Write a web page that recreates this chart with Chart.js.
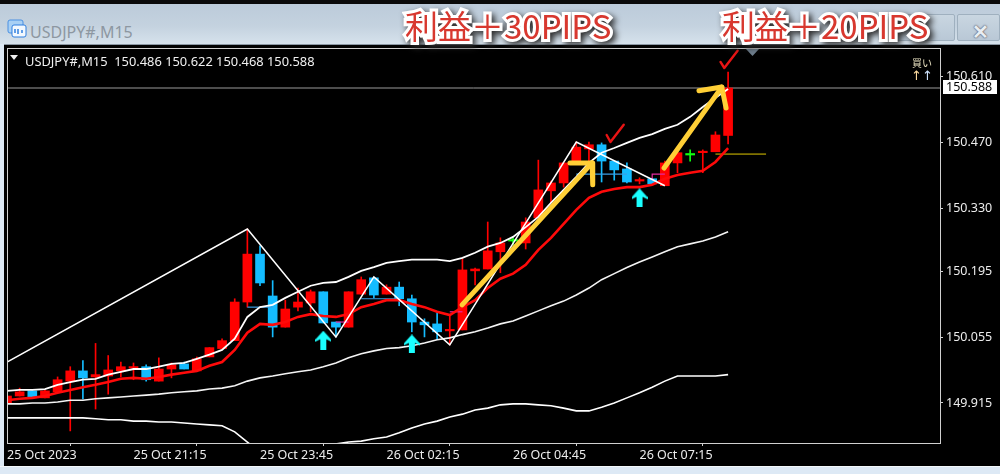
<!DOCTYPE html>
<html lang="ja"><head><meta charset="utf-8">
<style>
html,body{margin:0;padding:0;width:1000px;height:474px;overflow:hidden;background:#dde9f5}
#strip{position:absolute;left:0;top:0;width:1000px;height:4px;background:#0a0a0a}
#title{position:absolute;left:0;top:4px;width:1000px;height:40px;background:linear-gradient(#bccbda,#c4d2df 55%,#d6e2ec)}
#pane{position:absolute;left:4px;top:44px;width:996px;height:423px;background:#000;border-top:1px solid #8b97a3;box-sizing:border-box}
#bottom{position:absolute;left:0;top:466px;width:1000px;height:1px;background:#f4f8fb}
#cv{position:absolute;left:0;top:0}
.t{position:absolute;white-space:pre;line-height:1}
#wt{left:30px;top:21px;font:16px "Noto Sans",sans-serif;color:#8d97a1}
#icon{position:absolute;left:7px;top:19px}
.btn{position:absolute;top:14px;height:27px;border:1px solid #9fb0bf;border-radius:2px;background:linear-gradient(#c9d6e1,#b9c8d6);box-sizing:border-box}
#x{position:absolute;left:972px;top:20px;font:bold 20px "Liberation Sans",sans-serif;color:#e8edf2;text-shadow:0 0 1px #556,0 0 2px #556}
.gain{position:absolute;top:9px;font:400 33px/1 "Noto Sans CJK JP",sans-serif;color:#d8382f;white-space:pre;-webkit-text-stroke:6px #fff;paint-order:stroke fill;filter:drop-shadow(3px 3px 3px #2b2b2b)}
#hdr{left:25px;top:52px;font:12.86px "Noto Sans",sans-serif;color:#f0f0f0}
#tri{position:absolute;left:10px;top:55px;width:8px;height:5px;background:#f0f0f0;clip-path:polygon(0 0,100% 0,50% 100%)}
#shift{position:absolute;left:746px;top:49px;width:13px;height:7px;background:#6d7d8c;clip-path:polygon(0 0,100% 0,50% 100%)}
#buy{left:912px;top:55px;font:10px "Noto Sans CJK JP",sans-serif;color:#e8e0c0}
#up{left:911px;top:68px;font:13px "DejaVu Sans",sans-serif;color:#ffdca0;letter-spacing:-2px}
#up b{font-weight:normal;color:#cfe4ff}
#bid{left:943px;top:80px;width:54px;height:14px;background:#fff;color:#000;font:12.5px/14px "Noto Sans",sans-serif;padding-left:3px;box-sizing:border-box}
</style></head><body>
<div id="strip"></div><div id="title"></div><div id="pane"></div><div id="bottom"></div>
<svg id="icon" width="20" height="19" viewBox="0 0 20 19"><rect x="1" y="1" width="15" height="13" rx="2" fill="#a8d0f4" stroke="#4a90e2"/><rect x="5" y="6" width="14" height="12" rx="2" fill="#f2f8fe" stroke="#2f7fe0"/><path d="M8 14v-4M11 15v-5M15 14v-3" stroke="#2f7fe0" stroke-width="1.5"/></svg>
<div class="t" id="wt">USDJPY#,M15</div>
<div class="btn" style="left:878px;width:77px"></div>
<div class="btn" style="left:957px;width:43px"></div>
<div id="x">✕</div>
<canvas id="cv" width="1000" height="474"></canvas>
<div id="tri"></div>
<div class="t" id="hdr">USDJPY#,M15  150.486 150.622 150.468 150.588</div>
<div id="shift"></div>
<div class="t" id="buy">買い</div>
<div class="t" id="up">↑ <b>↑</b></div>
<div class="t" id="bid">150.588</div>
<div class="gain" style="left:405px">利益＋30PIPS</div>
<div class="gain" style="left:722px">利益＋20PIPS</div>
<script src="https://cdn.jsdelivr.net/npm/chart.js@4"></script>
<script>
const xTickIndex=[0,10,20,30,40,50];
const xTickLabels=['25 Oct 2023','25 Oct 21:15','25 Oct 23:45','26 Oct 02:15','26 Oct 04:45','26 Oct 07:15'];
const yTickValues=[150.612,150.470,150.330,150.193,150.051,149.911];
const yTickLabels=['150.610','150.470','150.330','150.195','150.055','149.915'];

const opens=[149.911,149.926,149.937,149.922,149.935,149.958,149.980,149.967,149.969,149.980,149.986,149.989,149.958,149.984,149.995,149.980,150.010,150.028,150.045,150.128,150.231,150.141,150.074,150.117,150.126,150.150,150.085,150.074,150.145,150.180,150.145,150.160,150.135,150.085,150.081,150.066,150.068,150.195,150.199,150.236,150.259,150.255,150.309,150.367,150.384,150.427,150.457,150.466,150.431,150.414,150.388,150.393,150.378,150.427,150.444,150.449,150.451,150.486];
const closes=[149.926,149.935,149.924,149.937,149.961,149.980,149.965,149.972,149.982,149.989,149.989,149.961,149.984,149.993,149.984,150.006,150.030,150.045,150.128,150.231,150.169,150.074,150.113,150.128,150.150,150.083,150.074,150.150,150.176,150.143,150.160,150.135,150.085,150.079,150.064,150.068,150.197,150.199,150.238,150.255,150.259,150.300,150.369,150.384,150.427,150.461,150.466,150.431,150.412,150.386,150.390,150.382,150.427,150.449,150.444,150.451,150.487,150.588];
const highs=[149.926,149.943,149.937,149.939,149.967,149.989,150.002,150.039,150.013,149.999,149.997,149.993,150.008,149.997,149.999,150.010,150.030,150.049,150.135,150.285,150.249,150.174,150.132,150.158,150.154,150.150,150.085,150.150,150.182,150.180,150.165,150.171,150.143,150.092,150.105,150.100,150.221,150.201,150.300,150.266,150.266,150.309,150.433,150.388,150.427,150.472,150.472,150.470,150.431,150.427,150.395,150.393,150.431,150.449,150.455,150.455,150.494,150.622];
const lows=[149.896,149.926,149.922,149.922,149.935,149.851,149.920,149.898,149.930,149.967,149.961,149.958,149.958,149.965,149.984,149.980,150.010,150.028,150.045,150.117,150.163,150.053,150.074,150.109,150.107,150.083,150.053,150.074,150.145,150.137,150.145,150.120,150.064,150.053,150.047,150.036,150.068,150.165,150.199,150.191,150.251,150.242,150.309,150.341,150.375,150.427,150.427,150.386,150.390,150.384,150.382,150.382,150.378,150.406,150.431,150.406,150.451,150.468];

const maRed=[149.917,149.920,149.922,149.926,149.933,149.939,149.945,149.950,149.956,149.963,149.965,149.963,149.967,149.972,149.976,149.980,149.991,149.999,150.025,150.062,150.081,150.079,150.085,150.096,150.102,150.098,150.096,150.102,150.117,150.124,150.132,150.132,150.124,150.117,150.107,150.100,150.117,150.132,150.158,150.178,150.189,150.208,150.240,150.266,150.296,150.326,150.352,150.365,150.371,150.375,150.375,150.380,150.393,150.401,150.406,150.410,150.429,150.459];
const bandUpper=[149.937,149.939,149.939,149.941,149.950,149.956,149.961,149.963,149.972,149.978,149.984,149.984,149.989,149.995,149.997,150.006,150.015,150.025,150.049,150.096,150.117,150.122,150.137,150.150,150.163,150.169,150.171,150.182,150.195,150.203,150.212,150.216,150.219,150.219,150.219,150.216,150.223,150.234,150.247,150.255,150.268,150.289,150.311,150.341,150.369,150.397,150.427,150.449,150.459,150.470,150.481,150.489,150.500,150.509,150.526,150.547,150.567,150.586];
const bandMiddle=[149.909,149.909,149.911,149.911,149.913,149.917,149.917,149.920,149.922,149.924,149.926,149.928,149.930,149.933,149.935,149.937,149.941,149.943,149.948,149.958,149.965,149.969,149.974,149.978,149.982,149.989,149.997,150.008,150.017,150.023,150.028,150.030,150.034,150.040,150.047,150.051,150.058,150.064,150.072,150.081,150.087,150.098,150.109,150.120,150.130,150.143,150.158,150.176,150.189,150.202,150.214,150.225,150.236,150.247,150.253,150.259,150.268,150.279];
const bandLower=[149.879,149.879,149.879,149.879,149.879,149.879,149.879,149.877,149.875,149.875,149.872,149.872,149.870,149.870,149.868,149.866,149.864,149.862,149.849,149.827,149.805,149.797,149.793,149.797,149.805,149.814,149.823,149.827,149.829,149.834,149.838,149.847,149.857,149.866,149.872,149.881,149.887,149.896,149.900,149.907,149.909,149.909,149.907,149.905,149.900,149.894,149.894,149.902,149.911,149.922,149.933,149.945,149.958,149.969,149.969,149.969,149.969,149.972];

const zigX=[0,19,26,29,35,45,52];
const zigY=[149.999,150.285,150.053,150.182,150.036,150.472,150.378];

const blueX=[[19,21],[28,31],[45,49]];
const blueY=[150.117,150.135,150.403];
const magentaX=[[26,27],[35,36],[51,51,52]];
const magentaY=[[150.085,150.085],[150.107,150.107],[150.390,150.403,150.403]];
const targetX=[56,60];
const targetY=[150.446,150.446];
const bidX=[0,73.75];
const bidY=[150.588,150.588];

const buyArrowX=[25,32,50];
const buyArrowY=[150.046,150.038,150.352];

const yellowX=[[35.97,46.25],[44.5,46.25,46.3],[51.94,56.5],[54.7,56.5,56.84]];
const yellowY=[[150.122,150.427],[150.427,150.427,150.380],[150.416,150.590],[150.582,150.590,150.545]];
const checkX=[[47.4,47.7,48.75],[56.4,56.7,57.75]];
const checkY=[[150.487,150.472,150.509],[150.644,150.631,150.668]];

const RED='#ff0000',CYAN='#14bcff',GREEN='#10ff10';
const candleColor=opens.map((o,i)=>o===closes[i]?GREEN:(closes[i]>o?RED:CYAN));
const arrowImg=document.createElement('canvas');
arrowImg.width=16;arrowImg.height=19;
(()=>{const c=arrowImg.getContext('2d');c.fillStyle='#1affff';c.beginPath();
 c.moveTo(8,0);c.lineTo(16,9);c.lineTo(16,11);c.lineTo(11,8.5);c.lineTo(11,19);c.lineTo(5,19);c.lineTo(5,8.5);c.lineTo(0,11);c.lineTo(0,9);c.closePath();c.fill();})();

const xy=(xs,ys)=>xs.map((x,i)=>({x,y:ys[i]}));
const series=ys=>ys.map((y,x)=>({x,y}));
const line=(data,color,width,order,extra)=>Object.assign({type:'line',data,borderColor:color,borderWidth:width,pointRadius:0,tension:0,fill:false,order},extra||{});
const round={borderCapStyle:'round',borderJoinStyle:'round'};

const datasets=[
 {type:'bar',data:opens.map((o,i)=>({x:i,y:[lows[i],highs[i]]})),backgroundColor:candleColor,barThickness:1,grouped:false,order:60},
 {type:'bar',data:opens.map((o,i)=>({x:i,y:[o,closes[i]]})),backgroundColor:candleColor,barThickness:9,minBarLength:1.5,grouped:false,order:50},
 line(xy(bidX,bidY),'#9a9a9a',1,70),
 line(xy(targetX,targetY),'#e0c800',1,46),
 ...blueX.map((xs,k)=>line(xy(xs,xs.map(()=>blueY[k])),'#3a9fe6',1.2,47)),
 ...magentaX.map((xs,k)=>line(xy(xs,magentaY[k]),'#e22aa0',1.2,46)),
 line(series(bandLower),'#ffffff',1.6,40),
 line(series(bandMiddle),'#f4f4f4',1.6,40),
 line(series(bandUpper),'#ffffff',1.8,38),
 line(series(maRed),'#ff0a0a',2.6,36),
 line(xy(zigX,zigY),'#ffffff',1.5,30),
 {type:'line',data:xy(buyArrowX,buyArrowY),showLine:false,pointStyle:arrowImg,pointRadius:1,pointBorderWidth:0,order:25},
 ...yellowX.map((xs,k)=>line(xy(xs,yellowY[k]),'#ffcf36',5,20,round)),
 ...checkX.map((xs,k)=>line(xy(xs,checkY[k]),'#e81414',2.4,15,round))
];

const frame={id:'frame',afterDraw(c){const a=c.chartArea,g=c.ctx;g.save();g.strokeStyle='#d0d0d0';g.lineWidth=1;g.strokeRect(Math.round(a.left)+.5,Math.round(a.top)+.5,Math.round(a.width),Math.round(a.height));g.restore();}};
const tickFont={family:'"Noto Sans"',size:12.5};
new Chart(document.getElementById('cv'),{
 data:{datasets},
 plugins:[frame],
 options:{responsive:false,animation:false,events:[],
  layout:{padding:{left:7,top:48,right:0,bottom:0}},
  plugins:{legend:{display:false},tooltip:{enabled:false},title:{display:false}},
  scales:{
   x:{type:'linear',min:0,max:73.75,offset:false,
    afterBuildTicks:s=>{s.ticks=xTickIndex.map(value=>({value}));},
    afterFit:s=>{s.height=31;s.paddingLeft=0;s.paddingRight=0;},
    grid:{drawOnChartArea:false,tickLength:3,color:'#d0d0d0'},border:{display:false},
    ticks:{autoSkip:false,maxRotation:0,align:'start',padding:2,color:'#ececec',font:tickFont,
     callback:v=>xTickLabels[xTickIndex.indexOf(v)]}},
   y:{type:'linear',position:'right',min:149.825,max:150.674,
    afterBuildTicks:s=>{s.ticks=yTickValues.map(value=>({value}));},
    afterFit:s=>{s.width=60;s.paddingTop=0;s.paddingBottom=0;},
    grid:{drawOnChartArea:false,tickLength:3,color:'#d0d0d0'},border:{display:false},
    ticks:{autoSkip:false,padding:3,color:'#ececec',font:tickFont,
     callback:v=>yTickLabels[yTickValues.indexOf(v)]}}
  }
 }
});
</script>
</body></html>
